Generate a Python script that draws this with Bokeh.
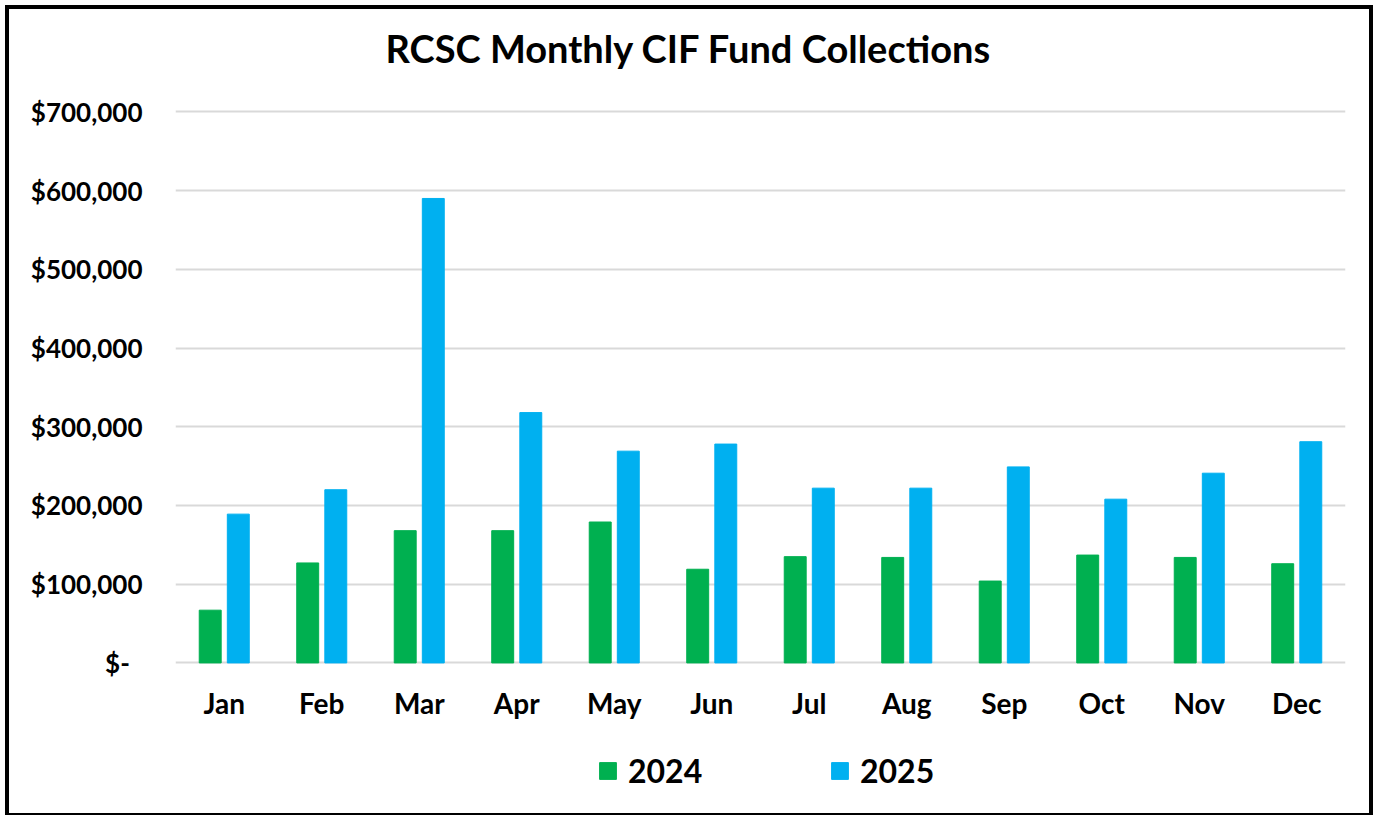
import numpy as np
from bokeh.plotting import figure
from bokeh.layouts import column
from bokeh.models import (ColumnDataSource, FactorRange, Range1d, FixedTicker, Legend, LegendItem,
                          CustomJSTickFormatter, Title)
from bokeh.transform import dodge
from bokeh.embed import file_html
from bokeh.resources import INLINE

months = ["Jan", "Feb", "Mar", "Apr", "May", "Jun", "Jul", "Aug", "Sep", "Oct", "Nov", "Dec"]
y2024 = [67000, 127000, 168000, 168000, 179000, 119000, 135000, 134000, 104000, 137000, 134000, 126000]
y2025 = [189000, 220000, 590000, 318000, 269000, 278000, 222000, 222000, 249000, 208000, 241000, 281000]
series_names = ["2024", "2025"]
y_ticks = [0, 100000, 200000, 300000, 400000, 500000, 600000, 700000]
y_tick_labels = ["$-  ", "$100,000", "$200,000", "$300,000", "$400,000", "$500,000", "$600,000", "$700,000"]
chart_title = "RCSC Monthly CIF Fund Collections"

FONT = "Lato"
GREEN = "#00b050"
BLUE = "#00b0f0"
W = 1360
H_MAIN, H_LEG = 720, 84

src = ColumnDataSource(dict(month=months, y2024=y2024, y2025=y2025))

p = figure(x_range=FactorRange(*months), y_range=Range1d(-2000, 703000),
           width=W, height=H_MAIN, output_backend="svg", toolbar_location=None,
           min_border_left=166, min_border_right=24, min_border_top=100, min_border_bottom=65)
p.title = None

# spacer between title and plot area, then the real title
p.add_layout(Title(text=" ", text_font_size="10px", standoff=19), "above")
p.add_layout(Title(text=chart_title, align="left", offset=210, standoff=14,
                   text_font=FONT, text_font_style="bold", text_font_size="38px",
                   text_color="black"), "above")

r1 = p.vbar(x=dodge("month", -0.144, range=p.x_range), top="y2024", width=0.225, source=src,
            fill_color=GREEN, line_color=GREEN)
r2 = p.vbar(x=dodge("month", 0.144, range=p.x_range), top="y2025", width=0.225, source=src,
            fill_color=BLUE, line_color=BLUE)

p.yaxis.ticker = FixedTicker(ticks=y_ticks)
p.yaxis.formatter = CustomJSTickFormatter(args=dict(tvals=y_ticks, tlabels=y_tick_labels),
                                          code="const i = tvals.indexOf(tick); return i >= 0 ? tlabels[i] : '';")
for ax in (p.xaxis[0], p.yaxis[0]):
    ax.axis_line_color = None
    ax.major_tick_line_color = None
    ax.minor_tick_line_color = None
    ax.major_label_text_font = FONT
    ax.major_label_text_font_style = "bold"
    ax.major_label_text_color = "black"
p.yaxis.major_label_text_font_size = "26px"
p.xaxis.major_label_text_font_size = "28px"
p.yaxis.major_label_standoff = 27
p.xaxis.major_label_standoff = 15

p.xgrid.grid_line_color = None
p.ygrid.grid_line_color = "#d9d9d9"
p.ygrid.grid_line_width = 2
p.outline_line_color = None

# legend strip (separate figure so the legend is not clipped by the main plot frame)
q = figure(width=W, height=H_LEG, output_backend="svg", toolbar_location=None,
           x_range=Range1d(0, 1), y_range=Range1d(0, 1),
           min_border_left=0, min_border_right=0, min_border_top=0, min_border_bottom=0)
q.axis.visible = False
q.grid.visible = False
q.outline_line_color = None
l1 = q.vbar(x=[0.5], top=[np.nan], width=0.1, fill_color=GREEN, line_color=GREEN)
l2 = q.vbar(x=[0.5], top=[np.nan], width=0.1, fill_color=BLUE, line_color=BLUE)

legend = Legend(items=[LegendItem(label=series_names[0], renderers=[l1]),
                       LegendItem(label=series_names[1], renderers=[l2])],
                orientation="horizontal", location=(422, 23))
legend.label_text_font = FONT
legend.label_text_font_style = "bold"
legend.label_text_font_size = "32px"
legend.label_text_color = "black"
legend.glyph_width = 21
legend.glyph_height = 21
legend.label_width = 191
legend.spacing = 10
legend.label_standoff = 10
legend.border_line_color = None
legend.background_fill_alpha = 0
legend.padding = 0
legend.margin = 0
q.add_layout(legend, "center")

layout = column(p, q, spacing=0)
layout.styles = {"border": "4px solid black", "margin-left": "5px", "margin-top": "5px"}

open("out.html", "w").write(file_html(layout, INLINE))
